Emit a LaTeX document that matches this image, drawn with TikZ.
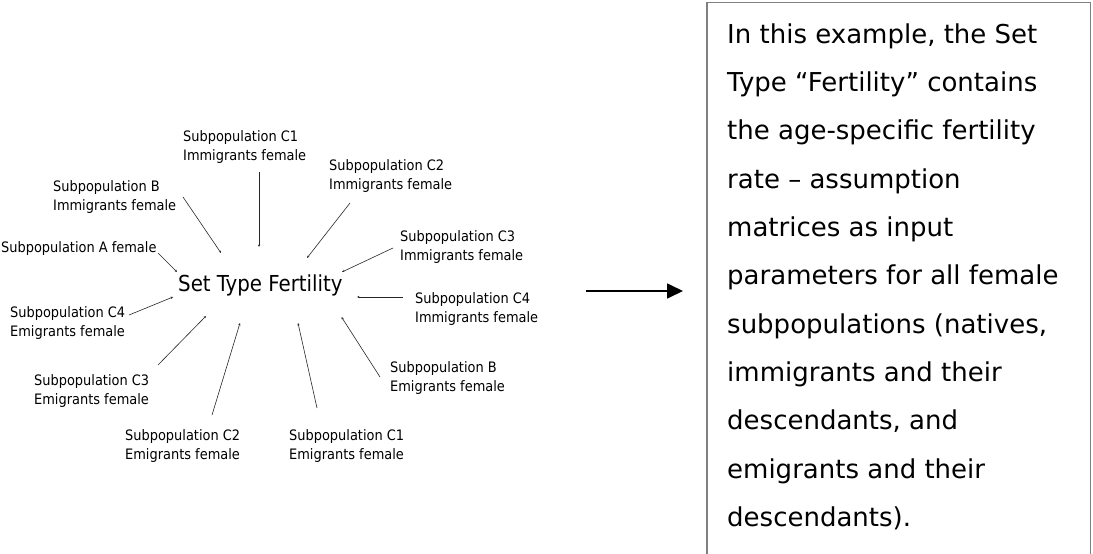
\documentclass[tikz,border=0pt]{standalone}
\usepackage{fontspec}
\setmainfont{DejaVu Sans}
\newfontfamily\condfont{DejaVu Sans Condensed}
\usetikzlibrary{arrows.meta}
\begin{document}
\begin{tikzpicture}[x=1pt,y=-1pt,
  lbl/.style={font=\condfont\fontsize{14.4}{19}\selectfont, align=left, inner sep=0pt, anchor=west},
  centre/.style={font=\condfont\fontsize{22}{24}\selectfont, inner sep=0pt, anchor=west},
  conn/.style={draw=black!85, line width=0.6pt, -{Stealth[length=2.5pt,width=2.2pt]}},
  bigarrow/.style={line width=1.7pt, -{Triangle[length=16pt,width=15pt]}},
  boxline/.style={draw=black!50, line width=1.6pt},
  desctext/.style={font=\fontsize{26}{48.3}\selectfont, align=left, inner sep=0pt, anchor=north west}]
\useasboundingbox (0,0) rectangle (1093,554);

% centre
\node[centre] (stf) at (178,285) {Set Type Fertility};

% labels
\node[lbl] (c1i) at (183,147.5) {Subpopulation C1\\Immigrants female};
\node[lbl] (c2i) at (329,176) {Subpopulation C2\\Immigrants female};
\node[lbl] (bi) at (53,197.5) {Subpopulation B\\Immigrants female};
\node[lbl] (a) at (1,249) {Subpopulation A female};
\node[lbl] (c3i) at (400,247.5) {Subpopulation C3\\Immigrants female};
\node[lbl] (c4i) at (415,309.5) {Subpopulation C4\\Immigrants female};
\node[lbl] (be) at (390,378) {Subpopulation B\\Emigrants female};
\node[lbl] (c4e) at (10,323) {Subpopulation C4\\Emigrants female};
\node[lbl] (c3e) at (34,391) {Subpopulation C3\\Emigrants female};
\node[lbl] (c2e) at (125,446.5) {Subpopulation C2\\Emigrants female};
\node[lbl] (c1e) at (289,446.5) {Subpopulation C1\\Emigrants female};

% connector end points
\coordinate (bi-s) at (183,197);  \coordinate (bi-t) at (221,253);
\coordinate (c1i-s) at (259,172); \coordinate (c1i-t) at (259,247);
\coordinate (c2i-s) at (350,203); \coordinate (c2i-t) at (307,258);
\coordinate (a-s) at (158,253);   \coordinate (a-t) at (177,272);
\coordinate (c3i-s) at (393,248); \coordinate (c3i-t) at (342,272);
\coordinate (c4i-s) at (403,297); \coordinate (c4i-t) at (357,297);
\coordinate (be-s) at (380,377);  \coordinate (be-t) at (341.5,317);
\coordinate (c1e-s) at (317,408); \coordinate (c1e-t) at (298,323);
\coordinate (c2e-s) at (212,415); \coordinate (c2e-t) at (240,323);
\coordinate (c3e-s) at (158,365); \coordinate (c3e-t) at (206,316);
\coordinate (c4e-s) at (129,315); \coordinate (c4e-t) at (173,297);

\foreach \n in {bi,c1i,c2i,a,c3i,c4i,be,c1e,c2e,c3e,c4e}
  \draw[conn] (\n-s) -- (\n-t);

% big arrow
\coordinate (arr-s) at (586,291);
\coordinate (arr-t) at (683,291);
\draw[bigarrow] (arr-s) -- (arr-t);

% description box (open at the bottom)
\draw[boxline] (707,570) -- (707,2.5) -- (1090.5,2.5) -- (1090.5,570);
\node[desctext] (desc) at (727,23.4) {In this example, the Set\\
Type \textquotedblleft Fertility\textquotedblright{} contains\\
the age-specific fertility\\
rate \textendash{} assumption\\
matrices as input\\
parameters for all female\\
subpopulations (natives,\\
immigrants and their\\
descendants, and\\
emigrants and their\\
descendants).};
\end{tikzpicture}
\end{document}
